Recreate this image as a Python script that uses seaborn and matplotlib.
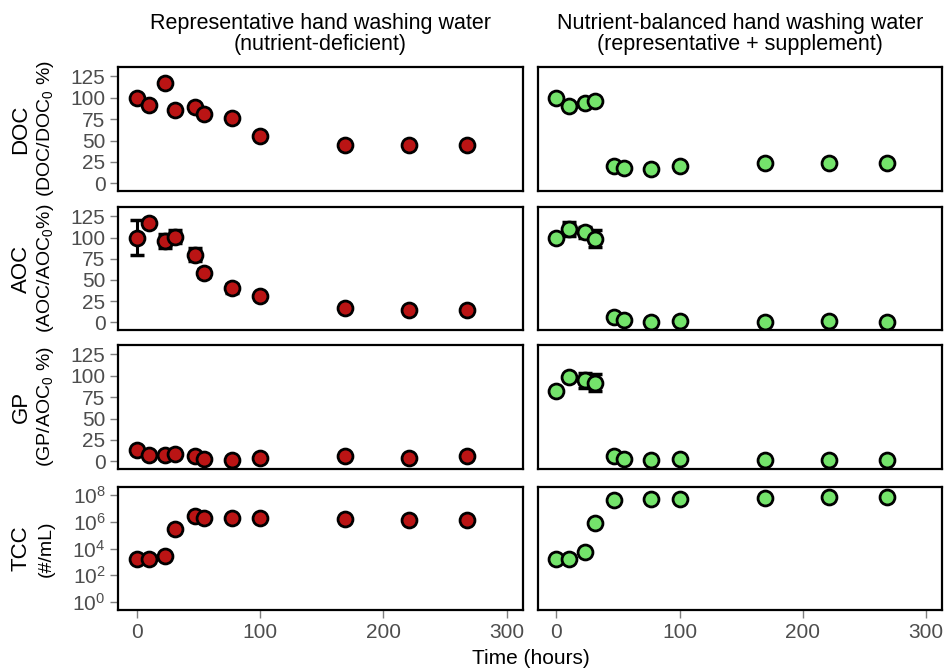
import matplotlib
matplotlib.use("Agg")
import matplotlib.pyplot as plt
import seaborn as sns
import numpy as np
import pandas as pd

sns.set_theme(style="white")
plt.rcParams['font.family'] = ['Liberation Sans', 'DejaVu Sans']
plt.rcParams['mathtext.fontset'] = 'custom'
plt.rcParams['mathtext.rm'] = 'Liberation Sans'
plt.rcParams['mathtext.it'] = 'Liberation Sans:italic'

# ---------------- data ----------------
time_h = [0, 10, 23, 31, 47, 55, 77, 100, 169, 221, 268]
time_h_tcc_nb = [0, 10, 23, 31, 47, 77, 100, 169, 221, 268]

doc_def = [100, 92, 117, 86, 89.5, 81, 76, 55, 45, 45, 45]
doc_nb = [100, 90, 94, 96, 20, 17.5, 16.5, 20, 24, 24, 24]

aoc_def = [100, 117, 96, 101, 80, 58, 40, 31, 17, 15, 15]
aoc_def_err = [21, 0, 8, 8, 8, 5, 5, 3, 1, 1, 1]
aoc_nb = [99, 110, 106, 98.5, 6, 2.5, 1, 2, 1, 2, 1]
aoc_nb_err = [1, 8, 7, 10, 1, 1, 0, 0, 0, 0, 0]

gp_def = [12.7, 7.3, 7.3, 8.8, 5.8, 2.7, 1.2, 3.8, 6.5, 3.8, 5.8]
gp_nb = [82, 98.5, 94.5, 92, 6, 3, 2, 3, 1, 1, 2]
gp_nb_err = [0, 0, 9, 10, 0, 0, 0, 0, 0, 0, 0]

tcc_def_log = [3.25, 3.25, 3.45, 5.45, 6.4, 6.25, 6.3, 6.25, 6.2, 6.1, 6.1]
tcc_nb_log = [3.25, 3.2, 3.75, 5.9, 7.6, 7.7, 7.7, 7.8, 7.83, 7.83]

col_titles = ["Representative hand washing water\n(nutrient-deficient)",
              "Nutrient-balanced hand washing water\n(representative + supplement)"]
row_main = ["DOC", "AOC", "GP", "TCC"]
row_sub = ["(DOC/DOC$_0$ %)", "(AOC/AOC$_0$%)", "(GP/AOC$_0$ %)", "(#/mL)"]
pct_ticks = [0, 25, 50, 75, 100, 125]
x_ticks = [0, 100, 200, 300]
tcc_ticks_exp = [0, 2, 4, 6, 8]

RED = "#BA1414"
GREEN = "#74E46B"

# ---------------- layout ----------------
fig = plt.figure(figsize=(9.44, 6.70), dpi=100)
W, H = 944, 670
col_x = [(118, 523), (538, 942)]
row_y = [(67, 191), (207, 330), (345, 469), (487, 610)]

panels = [
    [(time_h, doc_def, None), (time_h, doc_nb, None)],
    [(time_h, aoc_def, aoc_def_err), (time_h, aoc_nb, aoc_nb_err)],
    [(time_h, gp_def, None), (time_h, gp_nb, gp_nb_err)],
    [(time_h, [10 ** v for v in tcc_def_log], None),
     (time_h_tcc_nb, [10 ** v for v in tcc_nb_log], None)],
]
colors = [RED, GREEN]

tick_col = "#4D4D4D"
for r in range(4):
    for c in range(2):
        x0, x1 = col_x[c]
        y0, y1 = row_y[r]
        ax = fig.add_axes([x0 / W, 1 - y1 / H, (x1 - x0) / W, (y1 - y0) / H])
        xs, ys, err = panels[r][c]
        df = pd.DataFrame({"t": xs, "v": ys})
        if err is not None:
            ax.errorbar(xs, ys, yerr=err, fmt="none", ecolor="black",
                        elinewidth=2.2, capsize=5, capthick=2.5, zorder=2)
        sns.scatterplot(data=df, x="t", y="v", ax=ax, color=colors[c],
                        edgecolor="black", linewidth=2, s=115, zorder=3,
                        legend=False)
        ax.set_xlim(-15, 313)
        if r == 3:
            ax.set_yscale("log")
            ax.set_ylim(10 ** -0.6, 10 ** 8.6)
            ax.set_yticks([10.0 ** e for e in tcc_ticks_exp])
            ax.set_yticklabels([f"$10^{e}$" for e in tcc_ticks_exp])
            ax.minorticks_off()
        else:
            ax.set_ylim(-9, 136)
            ax.set_yticks(pct_ticks)
            ax.set_yticklabels([str(t) for t in pct_ticks])
        ax.set_xticks(x_ticks)
        ax.set_xticklabels([str(t) for t in x_ticks])
        ax.set_xlabel("")
        ax.set_ylabel("")
        for sp in ax.spines.values():
            sp.set_color("black")
            sp.set_linewidth(1.6)
        ax.tick_params(axis="both", which="both", direction="out", length=6,
                       width=1, color="#7F7F7F", labelcolor=tick_col,
                       labelsize=15, pad=3)
        ax.tick_params(axis="y", left=(c == 0), labelleft=(c == 0))
        ax.tick_params(axis="x", bottom=(r == 3), labelbottom=(r == 3))
        if r == 0:
            fig.text((x0 + x1) / 2 / W, 1 - 34 / H, col_titles[c],
                     ha="center", va="center", fontsize=15.5, color="black",
                     linespacing=1.05)
        if c == 0:
            yc = 1 - (y0 + y1) / 2 / H
            fig.text(21 / W, yc, row_main[r], rotation=90, ha="center",
                     va="center", fontsize=16, color="black")
            fig.text(46 / W, yc, row_sub[r], rotation=90, ha="center",
                     va="center", fontsize=14, color="black")

fig.text(531 / W, 1 - 658 / H, "Time (hours)", ha="center", va="center",
         fontsize=15, color="black")

fig.savefig("out.png", dpi=100)
